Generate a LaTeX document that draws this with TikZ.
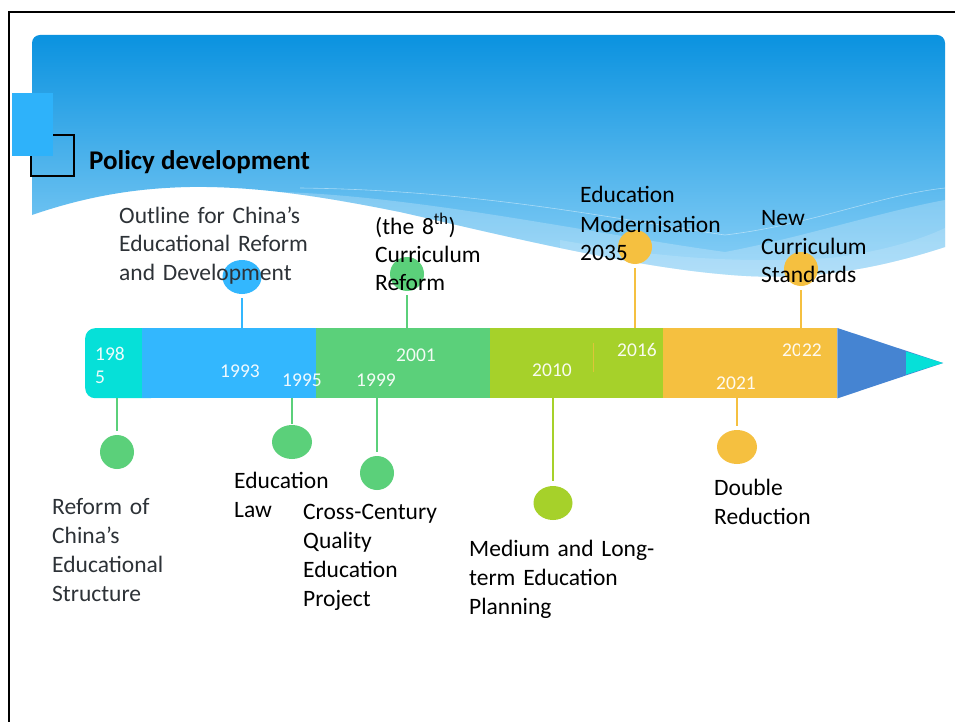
\documentclass[tikz,border=0pt]{standalone}
\usepackage{fontspec}
\setmainfont{Carlito}
\usetikzlibrary{shapes.geometric}
\definecolor{cCyan}{RGB}{6,224,216}
\definecolor{cBlue}{RGB}{51,183,254}
\definecolor{cGreen}{RGB}{91,208,122}
\definecolor{cLime}{RGB}{166,209,42}
\definecolor{cYellow}{RGB}{245,192,64}
\definecolor{cArrow}{RGB}{69,132,210}
\definecolor{cSq}{RGB}{46,178,250}
\definecolor{cText}{RGB}{45,50,55}
\definecolor{hTop}{RGB}{8,145,223}
\definecolor{hBot}{RGB}{146,212,248}
\begin{document}
\begin{tikzpicture}[x=1pt,y=-1pt,
  conn/.style={line width=1.2pt, shorten <=4pt},
  dot/.style={ellipse, inner sep=0pt, minimum width=34pt, minimum height=34pt},
  seg/.style={rectangle, inner sep=0pt, minimum height=70pt, anchor=north west},
  lbl/.style={anchor=base west, text width=240pt, align=left, inner sep=0pt, font=\fontsize{23.5}{29}\selectfont},
  yr/.style={text=white, text opacity=.93, font=\fontsize{19.5}{23}\selectfont, inner sep=0pt}]
\useasboundingbox (0,0) rectangle (955,722);
\fill[white] (0,0) rectangle (955,722);
% header
\begin{scope}
\clip (32,215) -- (32,100) [rounded corners=8pt] -- (32,35) -- (945,35) -- (945,100) [sharp corners] -- (945,247)
  .. controls (850,278) and (780,280) .. (720,274)
  .. controls (620,265) and (480,230) .. (400,212)
  .. controls (330,198) and (260,186) .. (190,187)
  .. controls (140,188) and (90,195) .. (32,215) -- cycle;
\shade[top color=hTop, bottom color=hBot] (0,30) rectangle (955,290);
\fill[white, opacity=.22] (280,192) .. controls (420,196) and (600,235) .. (725,252) .. controls (800,238) and (880,212) .. (945,200) -- (945,300) -- (280,300) -- cycle;
\fill[white, opacity=.15] (560,240) .. controls (680,262) and (760,262) .. (830,258) .. controls (880,252) and (920,240) .. (945,228) -- (945,300) -- (560,300) -- cycle;
\draw[white, opacity=.45, line width=.6pt] (300,188) .. controls (480,190) and (620,220) .. (725,235) .. controls (810,225) and (880,195) .. (945,188);
\end{scope}
% frame
\draw[line width=2pt] (8.5,722) -- (8.5,12.3) -- (955,12.3);
% squares
\draw[line width=1.3pt] (31,135) rectangle (74,176);
\fill[cSq] (12,93) rectangle (53,156);
\node[anchor=base west, inner sep=0pt, font=\fontsize{27}{32}\selectfont\bfseries] (title) at (89,170) {Policy development};
% bar
\node[seg, fill=cCyan, rounded corners=10pt, minimum width=75pt] (seg1) at (85,328) {};
\node[seg, fill=cBlue, minimum width=174.5pt] (seg2) at (142,328) {};
\node[seg, fill=cGreen, minimum width=174.5pt] (seg3) at (316,328) {};
\node[seg, fill=cLime, minimum width=173.5pt] (seg4) at (490,328) {};
\node[seg, fill=cYellow, minimum width=174pt] (seg5) at (663,328) {};
\fill[cArrow] (seg5.north east) -- (943,363) -- (seg5.south east) -- cycle;
\fill[cCyan] (906,351.5) -- (943,363) -- (906,374.5) -- cycle;
\draw[cYellow, opacity=.7, line width=.8pt] (593,343) -- (593,372);
% years
\node[yr, anchor=base west, text width=40pt, align=left] (y1985) at (95,360) {198\\5};
\node[yr] (y1993) at (240,371.5) {1993};
\node[yr] (y1995) at (302,380) {1995};
\node[yr] (y1999) at (376,380) {1999};
\node[yr] (y2001) at (416,355) {2001};
\node[yr] (y2010) at (552,370.5) {2010};
\node[yr] (y2016) at (637,350) {2016};
\node[yr] (y2022) at (802,350) {2022};
\node[yr] (y2021) at (736,383) {2021};
% circles
\node[dot, fill=cBlue, minimum width=39pt] (c1993) at (242,277) {};
\node[dot, fill=cGreen] (c2001) at (407,274) {};
\node[dot, fill=cYellow] (c2016) at (635,247) {};
\node[dot, fill=cYellow] (c2022) at (801,269) {};
\node[dot, fill=cGreen] (c1985) at (117,452) {};
\node[dot, fill=cGreen, minimum width=40pt] (c1995) at (292,442) {};
\node[dot, fill=cGreen] (c1999) at (377,473) {};
\node[dot, fill=cLime, minimum width=39pt] (c2010) at (553,503) {};
\node[dot, fill=cYellow, minimum width=40pt] (c2021) at (737,447) {};
% connectors
\coordinate (k2022) at (801,357);
\draw[conn, cBlue] (c1993) -- (c1993 |- seg2.north);
\draw[conn, cGreen] (c2001) -- (c2001 |- seg3.north);
\draw[conn, cYellow] (c2016) -- (c2016 |- seg4.north);
\draw[conn, cYellow, line width=2pt] (c2022) -- (k2022);
\draw[conn, cGreen] (c1985) -- (c1985 |- seg1.south);
\draw[conn, cGreen, shorten <=1pt] (c1995) -- (c1995 |- seg2.south);
\draw[conn, cGreen] (c1999) -- (c1999 |- seg3.south);
\draw[conn, cLime, shorten <=5pt] (c2010) -- (c2010 |- seg4.south);
\draw[conn, cYellow] (c2021) -- (c2021 |- seg5.south);
% texts
\node[lbl, text=cText, font=\fontsize{23.5}{28.5}\selectfont] (tOutline) at (119,223) {Outline for China’s\\Educational Reform\\and Development};
\node[lbl, font=\fontsize{23.5}{28}\selectfont] (t2001) at (375,234) {(the 8\textsuperscript{th})\\Curriculum\\Reform};
\node[lbl] (t2016) at (580,203) {Education\\Modernisation\\2035};
\node[lbl] (t2022) at (761,225) {New\\Curriculum\\Standards};
\node[lbl, text=cText] (t1985) at (52,514) {Reform of\\China’s\\Educational\\Structure};
\node[lbl] (t1995) at (234,488) {Education\\Law};
\node[lbl] (t1999) at (303,519) {Cross-Century\\Quality\\Education\\Project};
\node[lbl] (t2010) at (469,556) {Medium and Long-\\term Education\\Planning};
\node[lbl] (t2021) at (714,495) {Double\\Reduction};
\end{tikzpicture}
\end{document}
